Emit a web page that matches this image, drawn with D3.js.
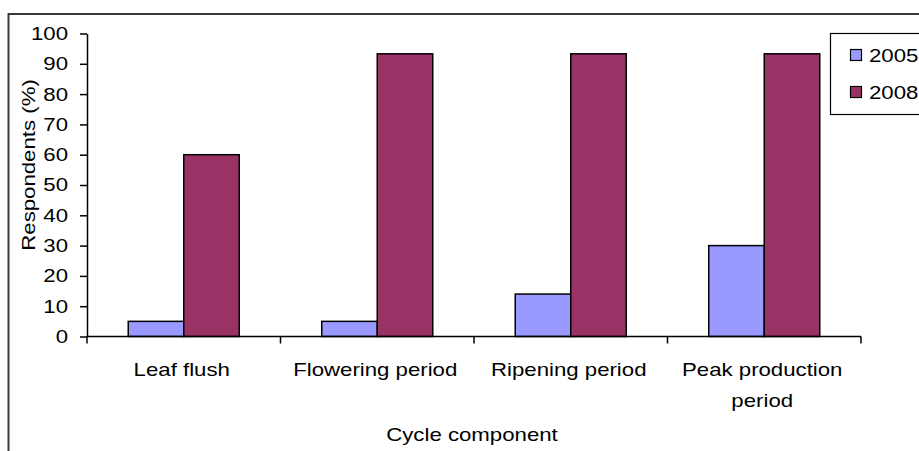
<!DOCTYPE html>
<html>
<head>
<meta charset="utf-8">
<script src="https://cdn.jsdelivr.net/npm/d3@7"></script>
<style>
  html, body { margin: 0; padding: 0; background: #fff; }
  svg { display: block; }
  text { font-family: "Liberation Sans", Arial, sans-serif; fill: #000; }
</style>
</head>
<body>
<svg id="chart" width="919" height="451"></svg>
<script>
const categories = ["Leaf flush", "Flowering period", "Ripening period", "Peak production period"];
const categoryLines = [["Leaf flush"], ["Flowering period"], ["Ripening period"], ["Peak production", "period"]];
const seriesNames = ["2005", "2008"];
const values2005 = [5, 5, 14, 30];
const values2008 = [60, 93.3, 93.3, 93.3];
const yTicks = [0, 10, 20, 30, 40, 50, 60, 70, 80, 90, 100];
const colors = ["#9999FF", "#993366"];
const yLabel = "Respondents (%)";
const xLabel = "Cycle component";

const seriesValues = [values2005, values2008];
const svg = d3.select("#chart");
const STRETCH = 1.2;
const FS = "18.5px";

// outer frame (only top-left visible)
svg.append("rect")
  .attr("x", 8.5).attr("y", 14).attr("width", 1000).attr("height", 600)
  .attr("fill", "none").attr("stroke", "#3a3a3a").attr("stroke-width", 2);

const pLeft = 87, pRight = 861, pTop = 33.5, pBottom = 336.5;
const x0 = d3.scaleBand().domain(categories).range([pLeft, pRight]).padding(0);
const x1 = d3.scaleBand().domain(seriesNames).range([0, x0.bandwidth()]).paddingInner(0).paddingOuter(0.743);
const y = d3.scaleLinear().domain([0, 100]).range([pBottom, pTop]);

// bars
const groups = svg.append("g").selectAll("g")
  .data(categories).join("g")
  .attr("transform", d => `translate(${x0(d)},0)`);
groups.selectAll("rect")
  .data((c, i) => seriesNames.map((s, j) => ({ s, v: seriesValues[j][i], j })))
  .join("rect")
  .attr("x", d => x1(d.s))
  .attr("width", x1.bandwidth())
  .attr("y", d => y(d.v))
  .attr("height", d => y(0) - y(d.v))
  .attr("fill", d => colors[d.j])
  .attr("stroke", "#000").attr("stroke-width", 1.5);

// y axis
const yAxis = d3.axisLeft(y).tickValues(yTicks).tickSize(7).tickPadding(12).tickSizeOuter(0);
const gy = svg.append("g").attr("transform", `translate(${pLeft},0)`).call(yAxis);
gy.select(".domain").attr("stroke", "#000").attr("stroke-width", 1.5);
gy.selectAll(".tick line").attr("stroke", "#000").attr("stroke-width", 1.5);
gy.selectAll(".tick text").attr("font-size", FS).attr("font-family", "Liberation Sans, Arial, sans-serif");

// x axis with ticks at category boundaries
const gx = svg.append("g").attr("transform", `translate(0,${pBottom})`);
gx.append("line").attr("x1", pLeft).attr("x2", pRight).attr("y1", 0).attr("y2", 0)
  .attr("stroke", "#000").attr("stroke-width", 1.5);
const boundaries = categories.map(c => x0(c)).concat([x0(categories[categories.length - 1]) + x0.bandwidth()]);
gx.selectAll("line.b").data(boundaries).join("line").attr("class", "b")
  .attr("x1", d => d).attr("x2", d => d).attr("y1", 0).attr("y2", 7)
  .attr("stroke", "#000").attr("stroke-width", 1.5);

// category labels
categories.forEach((c, i) => {
  const cx = x0(c) + x0.bandwidth() / 2 - 2;
  categoryLines[i].forEach((line, k) => {
    svg.append("text").attr("class", "st")
      .attr("x", cx).attr("y", 376 + k * 31)
      .attr("text-anchor", "middle").attr("font-size", FS)
      .text(line);
  });
});

// axis titles
svg.append("text").attr("class", "st")
  .attr("x", (pLeft + pRight) / 2 - 2).attr("y", 441)
  .attr("text-anchor", "middle").attr("font-size", FS)
  .text(xLabel);
svg.append("text").attr("class", "st")
  .attr("transform", `translate(35,${(pTop + pBottom) / 2 - 20}) rotate(-90)`)
  .attr("text-anchor", "middle").attr("font-size", FS)
  .text(yLabel);

// legend
const lg = svg.append("g");
lg.append("rect").attr("x", 830.5).attr("y", 33.5).attr("width", 120).attr("height", 81)
  .attr("fill", "#fff").attr("stroke", "#000").attr("stroke-width", 1.2);
seriesNames.forEach((s, j) => {
  const cy = 55 + j * 37;
  lg.append("rect").attr("x", 850.5).attr("y", cy - 5.5).attr("width", 11).attr("height", 11)
    .attr("fill", colors[j]).attr("stroke", "#000").attr("stroke-width", 1.2);
  lg.append("text").attr("class", "st").attr("x", 869).attr("y", cy + 6.5)
    .attr("font-size", FS).text(s);
});

// horizontal stretch of text to match reference glyph proportions
gy.selectAll(".tick text").classed("st", true);
svg.selectAll("text.st").each(function () {
  const len = this.getComputedTextLength();
  d3.select(this).attr("textLength", len * STRETCH).attr("lengthAdjust", "spacingAndGlyphs");
});
</script>
</body>
</html>
